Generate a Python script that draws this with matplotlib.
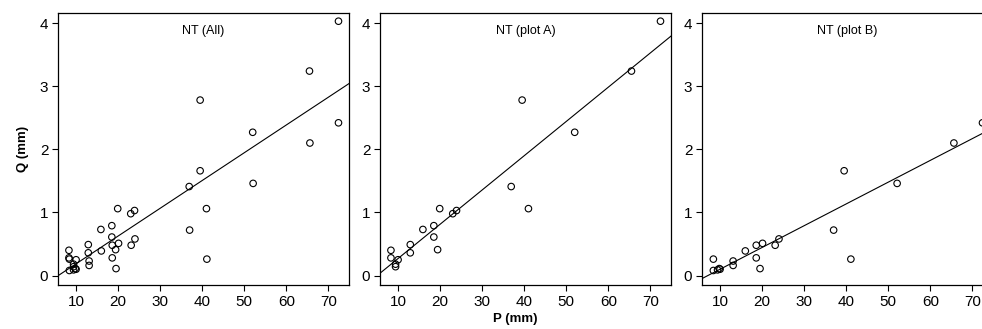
import numpy as np
import matplotlib.pyplot as plt

plt.rcParams['font.family'] = ['Liberation Sans', 'DejaVu Sans']

# event rainfall P (mm) and runoff Q (mm), plot A and plot B
p_a = [8.3, 8.3, 9.4, 9.4, 10.0, 12.9, 12.9, 15.9, 18.5, 18.5,
       19.4, 19.9, 23.0, 23.9, 36.9, 39.5, 41.0, 52.0, 65.5, 72.4]
q_a = [0.40, 0.28, 0.18, 0.14, 0.25, 0.49, 0.36, 0.73, 0.79, 0.61,
       0.41, 1.06, 0.98, 1.03, 1.41, 2.78, 1.06, 2.27, 3.24, 4.03]
p_b = [8.4, 8.4, 9.4, 9.8, 10.0, 13.1, 13.1, 16.0, 18.6, 18.6,
       19.5, 20.1, 23.1, 24.0, 37.0, 39.5, 41.1, 52.1, 65.6, 72.4]
q_b = [0.26, 0.08, 0.09, 0.11, 0.10, 0.23, 0.16, 0.39, 0.48, 0.28,
       0.11, 0.51, 0.48, 0.58, 0.72, 1.66, 0.26, 1.46, 2.10, 2.42]

titles = ['NT (All)', 'NT (plot A)', 'NT (plot B)']
# regression lines Q = slope * P + intercept
slopes = [0.0440, 0.0543, 0.0345]
intercepts = [-0.254, -0.273, -0.245]

xs = [p_a + p_b, p_a, p_b]
ys = [q_a + q_b, q_a, q_b]

fig = plt.figure(figsize=(9.82, 3.29), dpi=100)
lefts = [58, 380, 702]
W, H = 982, 329

for i in range(3):
    ax = fig.add_axes([lefts[i] / W, 44 / H, 291 / W, 272 / H])
    ax.scatter(xs[i], ys[i], s=22, facecolors='none', edgecolors='black',
               linewidths=0.8, zorder=3)
    xl = np.array([5.7, 75.0])
    ax.plot(xl, slopes[i] * xl + intercepts[i], color='black', lw=0.8)
    ax.set_xlim(5.7, 74.9)
    ax.set_ylim(-0.15, 4.16)
    ax.set_xticks(range(10, 80, 10))
    ax.set_yticks(range(0, 5))
    ax.tick_params(direction='out', length=4, width=0.8, labelsize=11, pad=3)
    for s in ax.spines.values():
        s.set_linewidth(0.9)
    ax.text(0.5, 0.955, titles[i], transform=ax.transAxes, ha='center',
            va='top', fontsize=9)
    if i == 0:
        ax.set_ylabel('Q (mm)', fontsize=9.5, fontweight='bold', labelpad=8)

fig.text(515 / W, 1 - 319 / H, 'P (mm)', ha='center', va='center',
         fontsize=9.5, fontweight='bold')

fig.savefig('out.png', dpi=100)
